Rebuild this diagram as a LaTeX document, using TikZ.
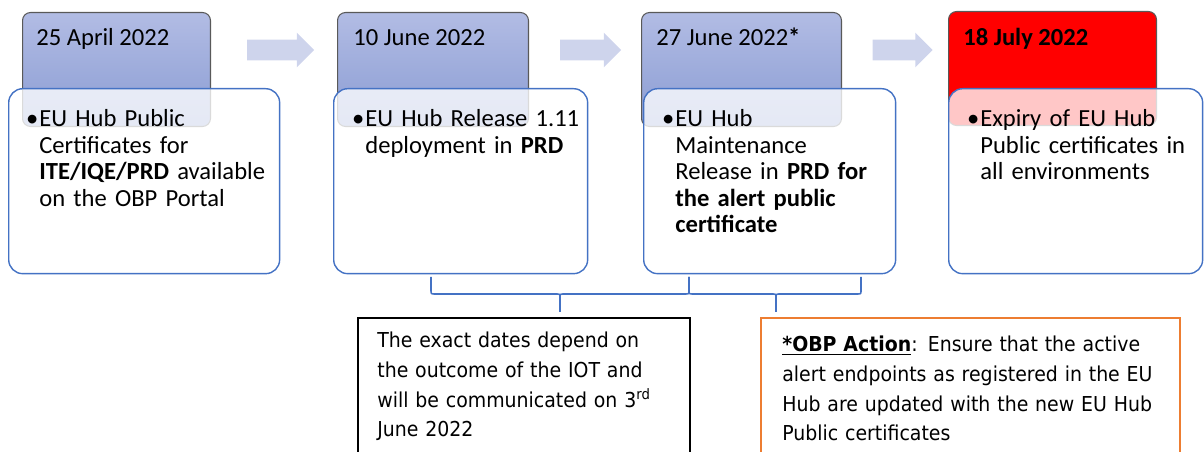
\documentclass[tikz,border=0pt]{standalone}
\usepackage{fontspec}
\setmainfont{Carlito}
\newfontfamily\notefont[FakeStretch=0.92]{DejaVu Sans}
\usetikzlibrary{shapes.arrows, positioning, calc}

\definecolor{hubblue}{RGB}{68,114,196}
\definecolor{datetop}{RGB}{178,188,228}
\definecolor{datebottom}{RGB}{138,156,211}
\definecolor{arrowfill}{RGB}{206,212,236}
\definecolor{actionorange}{RGB}{237,125,49}

\newcommand\hubitem{\leavevmode\llap{\textbullet\hspace{0.04em}}}

\begin{document}
\begin{tikzpicture}[x=0.02cm, y=-0.02cm]


        % Setup the styles for the boxes
        \tikzset{date style/.style={rectangle, rounded corners=0.16cm, anchor=north west,
                                    draw=black!65, line width=0.6pt,
                                    top color=datetop, bottom color=datebottom,
                                    minimum height=2.28cm, inner sep=0pt},
                 item style/.style={rectangle, rounded corners=0.28cm, anchor=north west,
                                    draw=hubblue, line width=0.8pt,
                                    fill=white, fill opacity=0.78,
                                    minimum height=3.7cm, inner sep=0pt},
                 step arrow/.style={single arrow, fill=arrowfill, inner sep=0.2cm,
                                    single arrow head extend=0.14cm},
                 date text/.style={anchor=base west, inner sep=0pt,
                                   font=\fontsize{14}{17}\selectfont},
                 item text/.style={anchor=base west, inner sep=0pt, text width=5cm, align=left,
                                   font=\fontsize{14}{15}\selectfont},
                 note style/.style={rectangle, anchor=north west, fill=white,
                                    minimum height=3.2cm, inner sep=0pt},
                 note text/.style={anchor=base west, inner sep=0pt, text width=8cm, align=left,
                                   font=\notefont\fontsize{11.7}{16.8}\selectfont},
                 brace style/.style={draw=hubblue, line width=0.9pt}}

\useasboundingbox (0,0) rectangle (1204,452);
\clip (0,0) rectangle (1204,452);

% Add the dates
\node[date style, minimum width=3.76cm] at (22,12) (d1) {};
\node[date style, minimum width=3.82cm] at (337,12) (d2) {};
\node[date style, minimum width=4.0cm] at (641,12) (d3) {};
\node[date style, minimum width=4.16cm, top color=red, bottom color=red] at (948,11) (d4) {};

\node[date text] at ($(d1.north west)+(14,34)$) (t1) {25 April 2022};
\node[date text] at ($(d2.north west)+(16,34)$) (t2) {10 June 2022};
\node[date text] at ($(d3.north west)+(15,34)$) (t3) {27 June 2022\textbf{*}};
\node[date text] at ($(d4.north west)+(15,35)$) (t4) {\textbf{18 July 2022}};

% The arrows between them
\node[step arrow, minimum height=1.34cm] at (275.5,50) (a1) {};
\node[step arrow, minimum height=1.22cm] at (585.5,50) (a2) {};
\node[step arrow, minimum height=1.2cm] at (897.5,50) (a3) {};

% Add the items
\node[item style, minimum width=5.42cm] at (8,88) (i1) {};
\node[item style, minimum width=5.08cm] at (333,88) (i2) {};
\node[item style, minimum width=5.04cm] at (643,88) (i3) {};
\node[item style, minimum width=5.08cm] at (948,88) (i4) {};

\node[item text] at ($(i1.north west)+(31,39)$) (c1) {\hubitem EU Hub Public\\ Certificates for\\ \textbf{ITE/IQE/PRD} available\\ on the OBP Portal};
\node[item text] at ($(i2.north west)+(32,39)$) (c2) {\hubitem EU Hub Release 1.11\\ deployment in \textbf{PRD}};
\node[item text] at ($(i3.north west)+(32,39)$) (c3) {\hubitem EU Hub\\ Maintenance\\ Release in \textbf{PRD for}\\ \textbf{the alert public}\\ \textbf{certificate}};
\node[item text] at ($(i4.north west)+(32,39)$) (c4) {\hubitem Expiry of EU Hub\\ Public certificates in\\ all environments};

% Braces under the items
\foreach \l/\m/\r in {431/560/689, 689/776/861} {
    \draw[brace style] (\l,277) -- (\l,290) .. controls (\l,294) .. (\l+4,294) -- (\m-4,294)
        .. controls (\m,294) .. (\m,298) -- (\m,312);
    \draw[brace style] (\m,298) .. controls (\m,294) .. (\m+4,294) -- (\r-4,294)
        .. controls (\r,294) .. (\r,290) -- (\r,277);
}

% The notes
\node[note style, draw=black, line width=0.9pt, minimum width=6.64cm] at (357,317) (n1) {};
\node[note style, draw=actionorange, line width=1.3pt, minimum width=8.38cm] at (760,317) (n2) {};

\node[note text] at ($(n1.north west)+(20,31)$) (m1) {The exact dates depend on\\ the outcome of the IOT and\\ will be communicated on 3\textsuperscript{rd}\\ June 2022};
\node[note text] at ($(n2.north west)+(22,35)$) (m2) {\underline{\textbf{*OBP Action}}: Ensure that the active\\ alert endpoints as registered in the EU\\ Hub are updated with the new EU Hub\\ Public certificates};
\end{tikzpicture}
\end{document}
